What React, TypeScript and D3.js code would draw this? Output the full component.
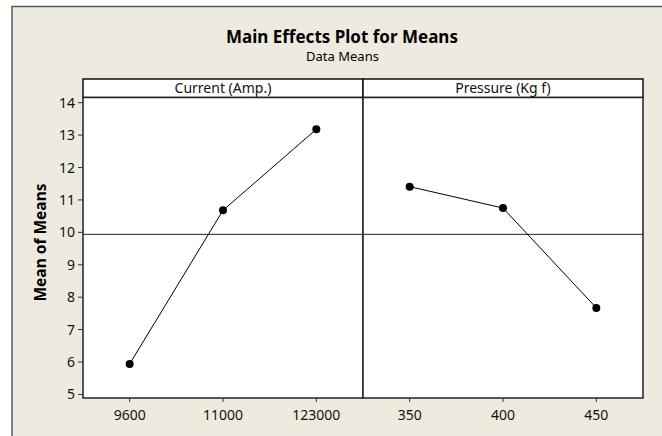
import React from "react";
import * as d3 from "d3";

const title = "Main Effects Plot for Means";
const subtitle = "Data Means";
const yLabel = "Mean of Means";

const factorNames = ["Current (Amp.)", "Pressure (Kg f)"];
const currentLevels = ["9600", "11000", "123000"];
const currentMeans = [5.94, 10.68, 13.18];
const pressureLevels = ["350", "400", "450"];
const pressureMeans = [11.41, 10.75, 7.67];
const yTicks = [5, 6, 7, 8, 9, 10, 11, 12, 13, 14];

const W = 662;
const H = 436;
const FONT = "'Noto Sans', Tahoma, Verdana, sans-serif";

export default function App() {
  const panelLeft = 83;
  const panelRight = 643;
  const stripTop = 79;
  const plotTop = 97.5;
  const plotBottom = 398;
  const panelW = (panelRight - panelLeft) / 2;

  const y = d3.scaleLinear().domain([4.89, 14.16]).range([plotBottom, plotTop]);

  const factors = [
    { name: factorNames[0], levels: currentLevels, means: currentMeans },
    { name: factorNames[1], levels: pressureLevels, means: pressureMeans },
  ];

  const all = [...currentMeans, ...pressureMeans];
  const grand = d3.mean(all) as number;

  const line = d3
    .line<[number, number]>()
    .x((d) => d[0])
    .y((d) => d[1]);

  return (
    <div style={{ position: "fixed", left: 0, top: 0, width: W, height: H, background: "#fff" }}>
      <svg width={W} height={H} style={{ display: "block" }}>
        <rect x={12} y={6.5} width={W} height={H} fill="#EEEAE0" stroke="#5a5a5a" strokeWidth={1.5} />
        <text x={342} y={42.7} textAnchor="middle" fontFamily={FONT} fontWeight="bold" fontSize={17} fill="#000">
          {title}
        </text>
        <text x={342.5} y={61} textAnchor="middle" fontFamily={FONT} fontSize={13} fill="#000">
          {subtitle}
        </text>

        {factors.map((f, i) => {
          const x0 = panelLeft + i * panelW;
          const x = d3.scalePoint<string>().domain(f.levels).range([x0, x0 + panelW]).padding(0.5);
          const pts: [number, number][] = f.levels.map((l, j) => [x(l) as number, y(f.means[j])]);
          return (
            <g key={f.name}>
              <rect x={x0} y={stripTop} width={panelW} height={plotTop - stripTop} fill="#fff" stroke="#111" strokeWidth={1.5} />
              <text x={x0 + panelW / 2} y={stripTop + 14} textAnchor="middle" fontFamily={FONT} fontSize={14} fill="#111">
                {f.name}
              </text>
              <rect x={x0} y={plotTop} width={panelW} height={plotBottom - plotTop} fill="#fff" stroke="#222" strokeWidth={1.5} />
              <line x1={x0} x2={x0 + panelW} y1={y(grand)} y2={y(grand)} stroke="#222" strokeWidth={1} />
              <path d={line(pts) as string} fill="none" stroke="#000" strokeWidth={1} />
              {pts.map((p, j) => (
                <circle key={j} cx={p[0]} cy={p[1]} r={4} fill="#000" />
              ))}
              {f.levels.map((l) => (
                <g key={l}>
                  <line x1={x(l) as number} x2={x(l) as number} y1={plotBottom} y2={plotBottom + 4} stroke="#333" strokeWidth={1} />
                  <text x={x(l) as number} y={420} textAnchor="middle" fontFamily={FONT} fontSize={14} fill="#111">
                    {l}
                  </text>
                </g>
              ))}
            </g>
          );
        })}

        {yTicks.map((t) => (
          <g key={t}>
            <line x1={panelLeft - 5} x2={panelLeft} y1={y(t)} y2={y(t)} stroke="#333" strokeWidth={1} />
            <text x={panelLeft - 8} y={y(t)} dy="0.36em" textAnchor="end" fontFamily={FONT} fontSize={14} fill="#111">
              {t}
            </text>
          </g>
        ))}

        <text
          transform={`translate(46, 242.5) rotate(-90)`}
          textAnchor="middle"
          fontFamily={FONT}
          fontWeight="bold"
          fontSize={15.5}
          fill="#000"
        >
          {yLabel}
        </text>
      </svg>
    </div>
  );
}
